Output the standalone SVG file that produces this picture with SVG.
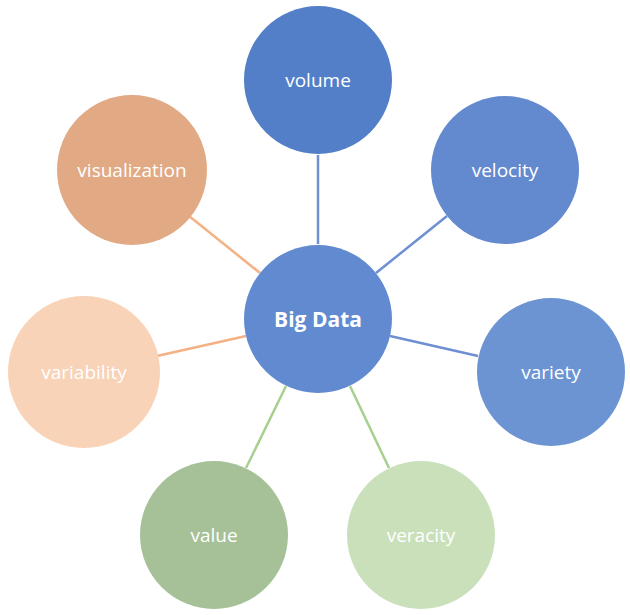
<svg xmlns="http://www.w3.org/2000/svg" width="630" height="615" viewBox="0 0 630 615">
<style>
.lbl{font-family:"Open Sans","Liberation Sans",sans-serif;font-size:19px;fill:#ffffff;text-anchor:middle;dominant-baseline:central}
.hub{font-family:"Open Sans","Liberation Sans",sans-serif;font-size:21px;font-weight:bold;fill:#ffffff;text-anchor:middle;dominant-baseline:central}
.cb{stroke:#6E8FD2;stroke-width:2.5}
.cg{stroke:#A6D08E;stroke-width:2.5}
.co{stroke:#F4B183;stroke-width:2.5}
</style>
<rect width="630" height="615" fill="#ffffff"/>
<g id="connectors">
<line class="cb" x1="318" y1="155" x2="318" y2="244"/>
<line class="cb" x1="447" y1="216" x2="376" y2="273"/>
<line class="cb" x1="478" y1="356" x2="390" y2="336"/>
<line class="cg" x1="389" y1="468" x2="350" y2="386"/>
<line class="cg" x1="246" y1="468" x2="286" y2="386"/>
<line class="co" x1="157" y1="356" x2="246" y2="336"/>
<line class="co" x1="189" y1="216" x2="260" y2="273"/>
</g>
<g id="volume"><circle cx="318" cy="80" r="74" fill="#537FC9"/><text class="lbl" x="318" y="80">volume</text></g>
<g id="velocity"><circle cx="505" cy="170" r="74" fill="#6389CF"/><text class="lbl" x="505" y="170">velocity</text></g>
<g id="variety"><circle cx="551" cy="372" r="74" fill="#6C94D3"/><text class="lbl" x="551" y="372">variety</text></g>
<g id="veracity"><circle cx="421" cy="535" r="74" fill="#C9E0BB"/><text class="lbl" x="421" y="535">veracity</text></g>
<g id="value"><circle cx="214" cy="535" r="74" fill="#A6C198"/><text class="lbl" x="214" y="535">value</text></g>
<g id="variability"><circle cx="84" cy="372" r="76" fill="#F8D3B8"/><text class="lbl" x="84" y="372">variability</text></g>
<g id="visualization"><circle cx="132" cy="170" r="75" fill="#E1AA84"/><text class="lbl" x="132" y="170">visualization</text></g>
<g id="big-data"><circle cx="318" cy="319" r="74" fill="#628AD0"/><text class="hub" x="318" y="319">Big Data</text></g>
</svg>
